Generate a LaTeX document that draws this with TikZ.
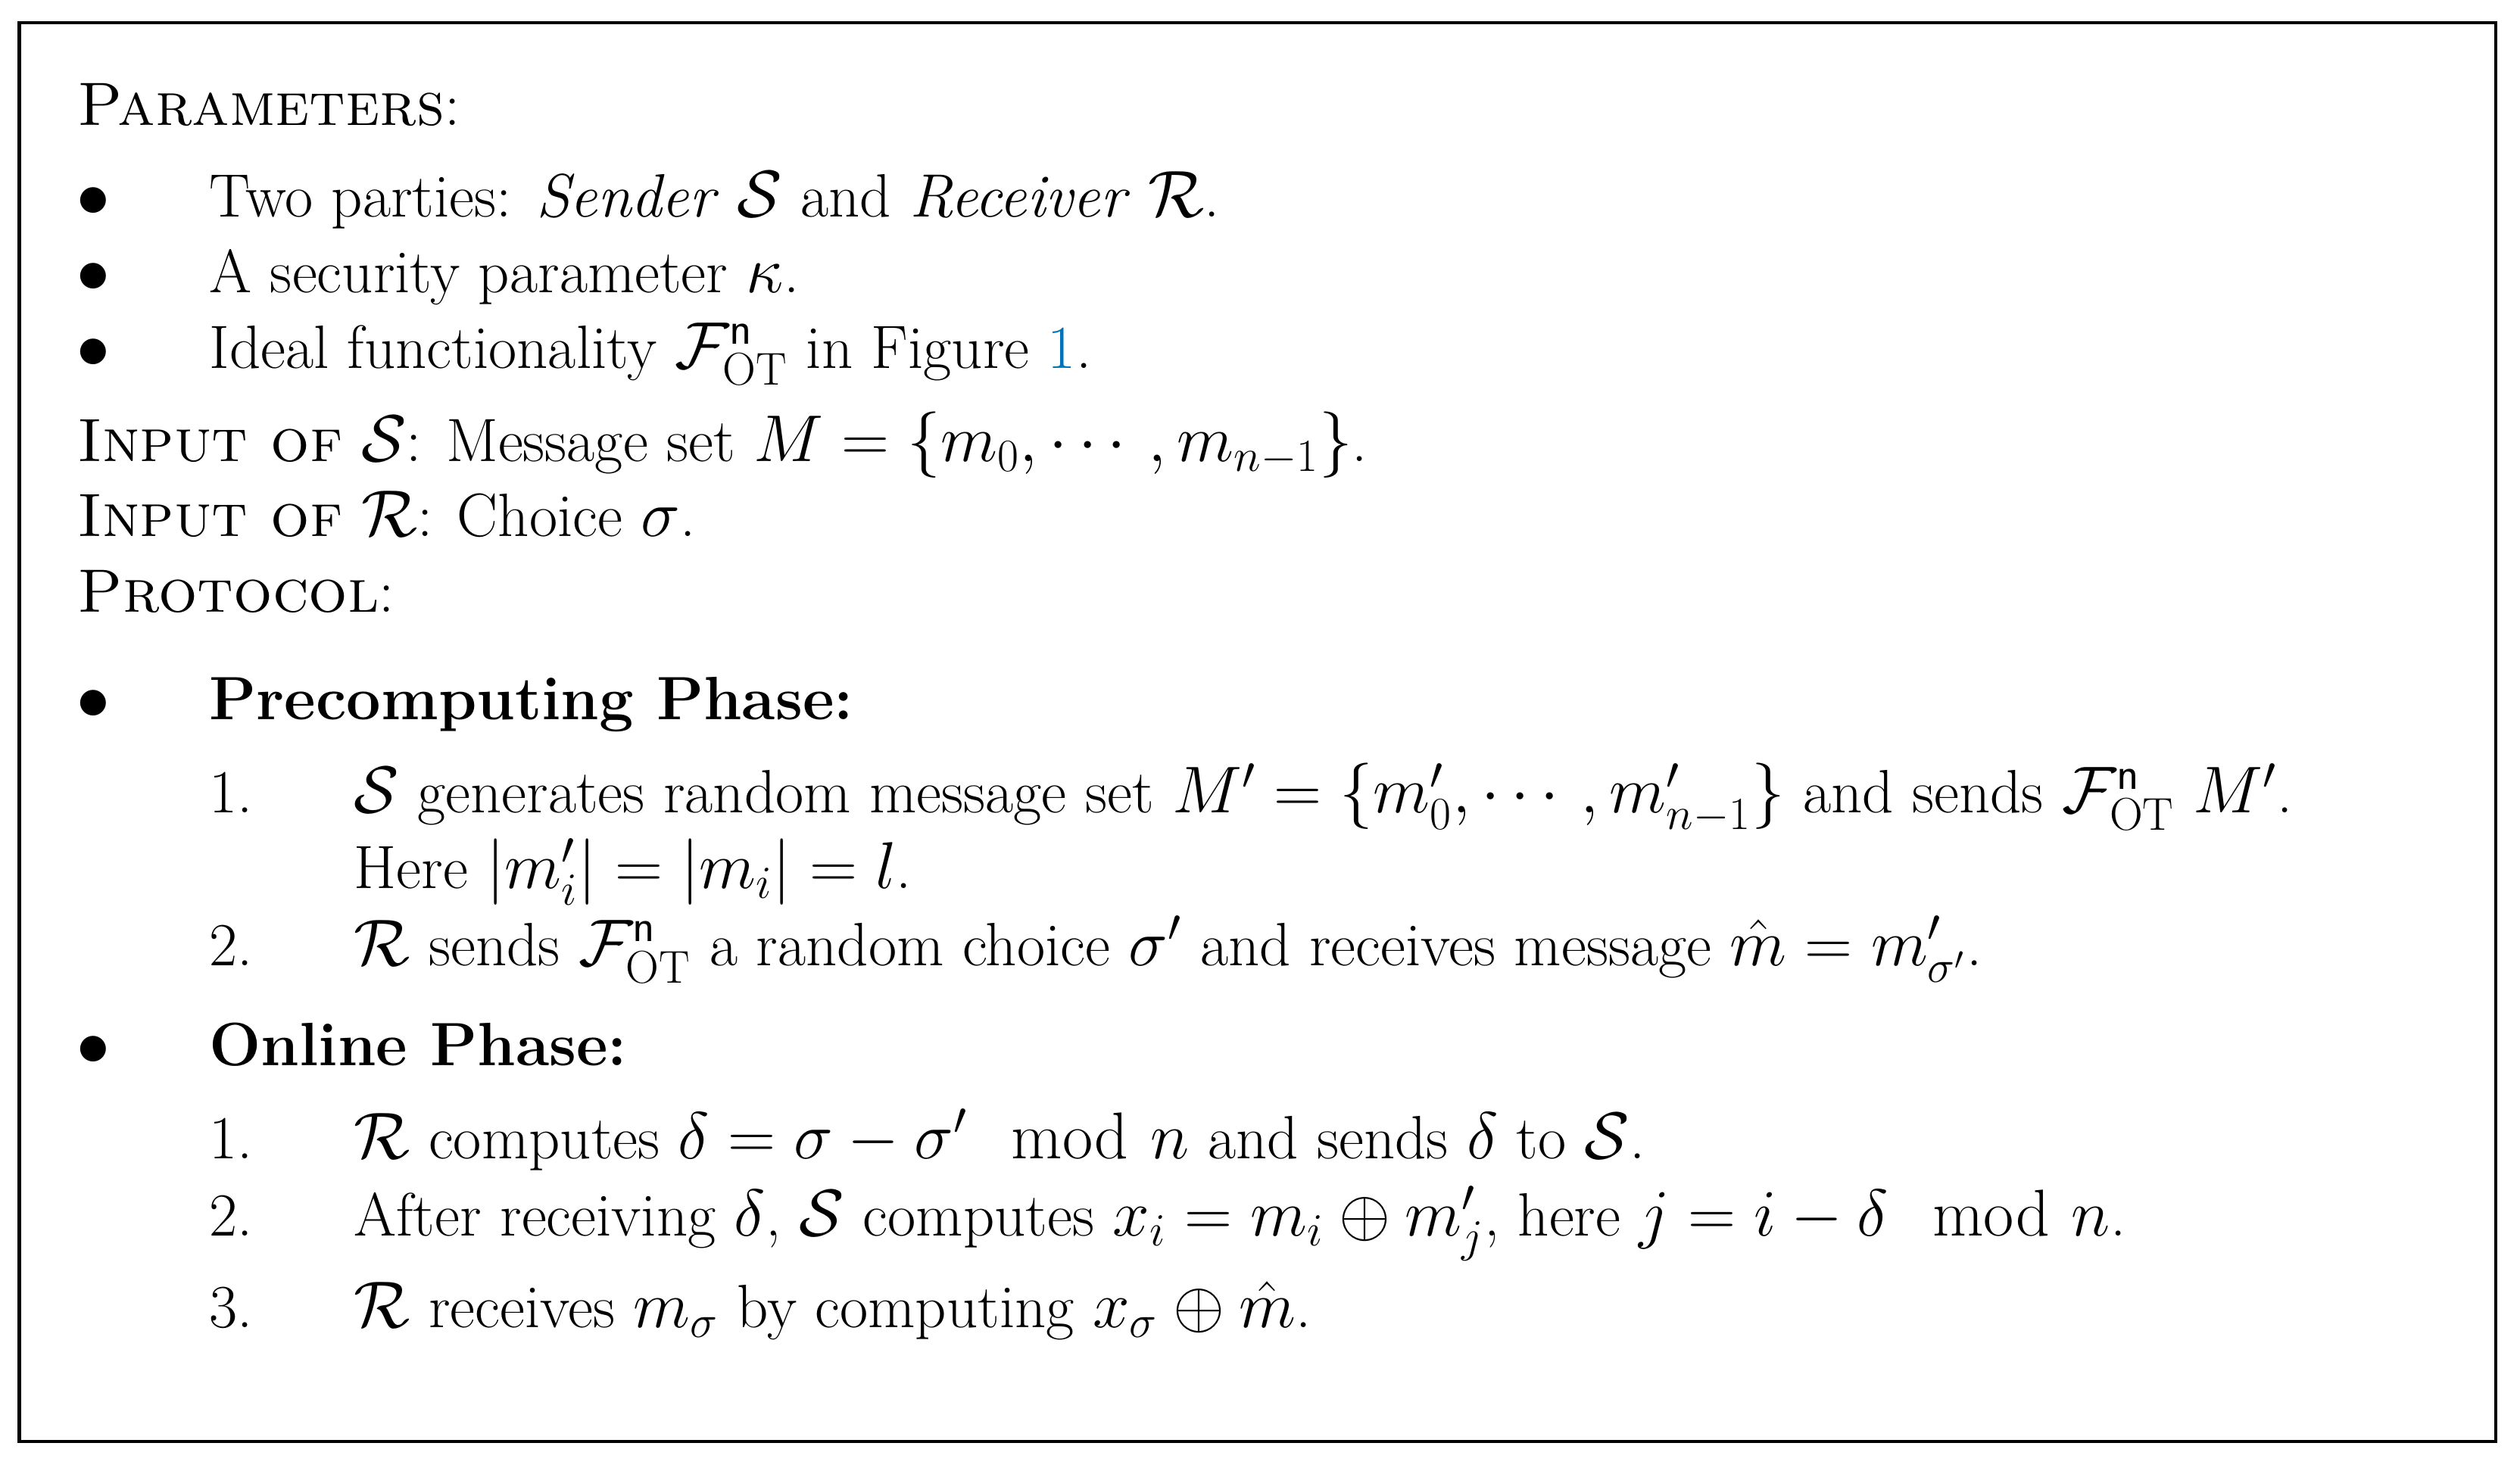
\documentclass[tikz,border=0pt]{standalone}
\usepackage{amsmath,amssymb}
\usepackage{xcolor}
\definecolor{linkblue}{RGB}{0,114,188}
\begin{document}
\begin{tikzpicture}[x=0.02122cm,y=-0.02122cm,
  t/.style={anchor=base west,inner sep=0pt,font=\fontsize{23}{28}\selectfont},
  bl/.style={anchor=base,inner sep=0pt,font=\fontsize{23}{28}\selectfont}]
\newcommand{\FOT}{\mathcal{F}_{\mathrm{OT}}^{\mathsf{n}}}
\useasboundingbox (0,0) rectangle (1568,915);
\draw[line width=1.2pt] (12,14) rectangle (1553,897);
\node[t] (p) at (48,78) {\textsc{Parameters}:};
\node[bl] (b1) at (58,135) {$\bullet$};
\node[t] (l1) at (130,135) {Two parties: \emph{Sender} $\mathcal{S}$ and \emph{Receiver} $\mathcal{R}$.};
\node[bl] (b2) at (58,182) {$\bullet$};
\node[t] (l2) at (130,182) {A security parameter $\kappa$.};
\node[bl] (b3) at (58,229) {$\bullet$};
\node[t] (l3) at (130,229) {Ideal functionality $\FOT$ in Figure \textcolor{linkblue}{1}.};
\node[t] (is) at (48,287) {\textsc{Input of} $\mathcal{S}$: Message set $M=\{m_0,\cdots,m_{n-1}\}$.};
\node[t] (ir) at (48,334) {\textsc{Input of} $\mathcal{R}$: Choice $\sigma$.};
\node[t] (pr) at (48,381) {\textsc{Protocol}:};
\node[bl] (b4) at (58,448) {$\bullet$};
\node[t] (pc) at (130,448) {\textbf{Precomputing Phase:}};
\node[t] (n1) at (130,506) {1.};
\node[t] (s1) at (220,506) {$\mathcal{S}$ generates random message set $M'=\{m'_0,\cdots,m'_{n-1}\}$ and sends $\FOT$ $M'$.};
\node[t] (s1b) at (220,553) {Here $|m'_i|=|m_i|=l$.};
\node[t] (n2) at (130,601) {2.};
\node[t] (s2) at (220,601) {$\mathcal{R}$ sends $\FOT$ a random choice $\sigma'$ and receives message $\hat{m}=m'_{\sigma'}$.};
\node[bl] (b5) at (58,663) {$\bullet$};
\node[t] (on) at (130,663) {\textbf{Online Phase:}};
\node[t] (o1) at (130,721) {1.};
\node[t] (r1) at (220,721) {$\mathcal{R}$ computes $\delta=\sigma-\sigma'\mod n$ and sends $\delta$ to $\mathcal{S}$.};
\node[t] (o2) at (130,769) {2.};
\node[t] (r2) at (220,769) {After receiving $\delta$, $\mathcal{S}$ computes $x_i=m_i\oplus m'_j$, here $j=i-\delta\mod n$.};
\node[t] (o3) at (130,826) {3.};
\node[t] (r3) at (220,826) {$\mathcal{R}$ receives $m_\sigma$ by computing $x_\sigma\oplus\hat{m}$.};
\end{tikzpicture}
\end{document}
